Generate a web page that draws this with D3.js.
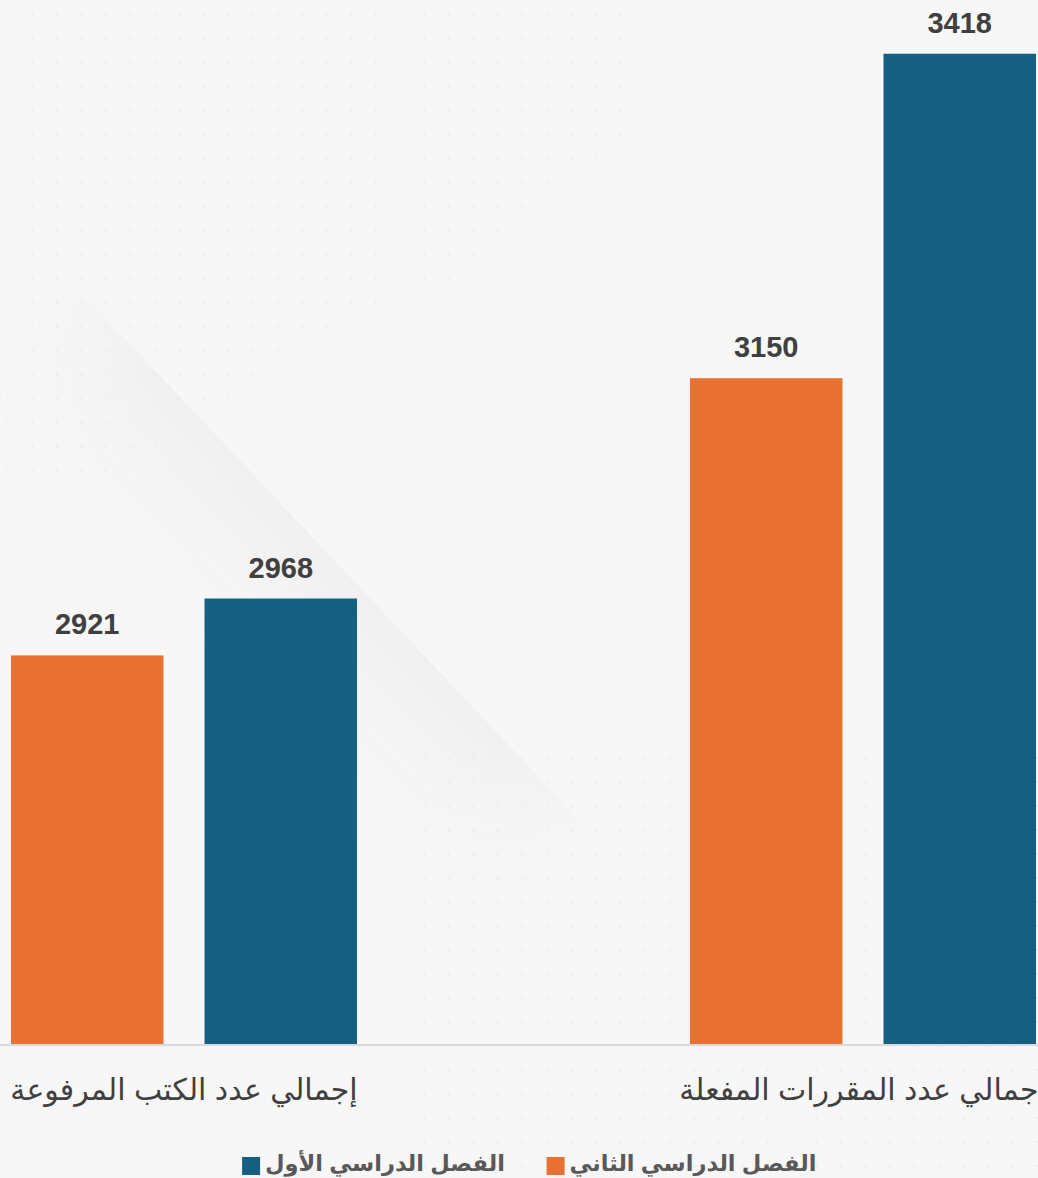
<!DOCTYPE html>
<html>
<head>
<meta charset="utf-8">
<script src="https://cdn.jsdelivr.net/npm/d3@7"></script>
<style>
  html, body { margin: 0; padding: 0; background: #f7f7f7; }
  svg { display: block; }
</style>
</head>
<body>
<div id="chart"></div>
<script>
// categories in reading order (right to left)
var categories = ['إجمالي عدد المقررات المفعلة', 'إجمالي عدد الكتب المرفوعة'];
var seriesNames = ['الفصل الدراسي الأول', 'الفصل الدراسي الثاني'];
var firstSemester  = [3418, 2968];
var secondSemester = [3150, 2921];
var colors = ['#156082', '#E97132'];

var width = 1038,
    height = 1178,
    baseY = 1044;

var rows = categories.map(function(c, i) {
  return { cat: c, values: [firstSemester[i], secondSemester[i]] };
});

var svg = d3.select('#chart')
  .append('svg')
  .attr('width', width)
  .attr('height', height);

var defs = svg.append('defs');

// faint dotted background
var pat = defs.append('pattern')
  .attr('id', 'dots')
  .attr('patternUnits', 'userSpaceOnUse')
  .attr('width', 24.5)
  .attr('height', 24);
pat.append('circle')
  .attr('cx', 8).attr('cy', 14).attr('r', 1.3)
  .attr('fill', '#e6e6e6');

// soft diagonal shadow
var grad = defs.append('linearGradient')
  .attr('id', 'shade')
  .attr('gradientUnits', 'userSpaceOnUse')
  .attr('x1', 310).attr('y1', 535)
  .attr('x2', 180).attr('y2', 658);
grad.append('stop').attr('offset', '0%').attr('stop-color', '#ececec').attr('stop-opacity', 0.7);
grad.append('stop').attr('offset', '100%').attr('stop-color', '#f7f7f7').attr('stop-opacity', 0);

var fade = defs.append('linearGradient')
  .attr('id', 'fade')
  .attr('gradientUnits', 'userSpaceOnUse')
  .attr('x1', 60).attr('y1', 270)
  .attr('x2', 600).attr('y2', 842);
fade.append('stop').attr('offset', '0%').attr('stop-color', '#000');
fade.append('stop').attr('offset', '20%').attr('stop-color', '#fff');
fade.append('stop').attr('offset', '80%').attr('stop-color', '#fff');
fade.append('stop').attr('offset', '100%').attr('stop-color', '#000');

defs.append('mask')
  .attr('id', 'fadeMask')
  .attr('maskUnits', 'userSpaceOnUse')
  .attr('x', 0).attr('y', 0).attr('width', width).attr('height', height)
  .append('rect')
  .attr('width', width).attr('height', height)
  .attr('fill', 'url(#fade)');

svg.append('rect')
  .attr('width', width)
  .attr('height', height)
  .attr('fill', '#f7f7f7');

svg.append('polygon')
  .attr('points', '60,270 600,842 0,1178 0,270')
  .attr('fill', 'url(#shade)')
  .attr('mask', 'url(#fadeMask)');

svg.append('polygon')
  .attr('points', '0,0 640,0 640,120 470,270 300,340 140,470 0,480')
  .attr('fill', 'url(#dots)')
  .attr('opacity', 0.7);

svg.append('polygon')
  .attr('points', '420,740 1038,740 1038,1178 380,1178')
  .attr('fill', 'url(#dots)')
  .attr('opacity', 0.7);

// scales
var x0 = d3.scaleBand()
  .domain(categories)
  .range([1036, 11])
  .paddingInner(0.4904);

var x1 = d3.scaleBand()
  .domain(seriesNames)
  .range([x0.bandwidth(), 0])
  .paddingInner(0.212);

var y = d3.scaleLinear()
  .domain([2600, 3450])
  .range([baseY, 15]);

// bars
var groups = svg.selectAll('g.group')
  .data(rows)
  .enter()
  .append('g')
  .attr('class', 'group')
  .attr('transform', function(d) { return 'translate(' + x0(d.cat) + ',0)'; });

var bars = groups.selectAll('g.bar')
  .data(function(d) {
    return d.values.map(function(v, i) { return { name: seriesNames[i], value: v, i: i }; });
  })
  .enter()
  .append('g')
  .attr('class', 'bar');

bars.append('rect')
  .attr('x', function(d) { return x1(d.name); })
  .attr('y', function(d) { return y(d.value); })
  .attr('width', x1.bandwidth())
  .attr('height', function(d) { return baseY - y(d.value); })
  .attr('fill', function(d) { return colors[d.i]; });

bars.append('text')
  .attr('x', function(d) { return x1(d.name) + x1.bandwidth() / 2; })
  .attr('y', function(d) { return y(d.value) - 21; })
  .attr('text-anchor', 'middle')
  .attr('font-family', '"Liberation Sans", Arial, sans-serif')
  .attr('font-weight', 'bold')
  .attr('font-size', 29)
  .attr('fill', '#404040')
  .text(function(d) { return d.value; });

// x axis
var xAxis = svg.append('g')
  .attr('transform', 'translate(0,' + baseY + ')')
  .call(d3.axisBottom(x0).tickSize(0).tickPadding(0));

xAxis.select('.domain').remove();

xAxis.append('line')
  .attr('x1', 0).attr('x2', width)
  .attr('y1', 1).attr('y2', 1)
  .attr('stroke', '#d9d9d9')
  .attr('stroke-width', 2);

// right label runs past the edge, as in the source
xAxis.selectAll('.tick text')
  .attr('y', 56)
  .attr('dy', 0)
  .attr('font-family', '"Liberation Sans", Arial, "DejaVu Sans", sans-serif')
  .attr('font-size', 30)
  .attr('fill', '#404040');

// legend
var legendCenters = [385, 693];
var legend = svg.selectAll('g.legend')
  .data(seriesNames)
  .enter()
  .append('g')
  .attr('class', 'legend');

legend.append('text')
  .attr('x', function(d, i) { return legendCenters[i]; })
  .attr('y', 1171)
  .attr('text-anchor', 'middle')
  .attr('font-family', '"Liberation Sans", Arial, "DejaVu Sans", sans-serif')
  .attr('font-weight', 'bold')
  .attr('font-size', 22.5)
  .attr('fill', '#595959')
  .text(function(d) { return d; });

legend.append('rect')
  .attr('x', function(d, i) {
    var t = d3.select(this.parentNode).select('text').node();
    return legendCenters[i] - t.getComputedTextLength() / 2 - 23;
  })
  .attr('y', 1157)
  .attr('width', 18)
  .attr('height', 18)
  .attr('fill', function(d, i) { return colors[i]; });
</script>
</body>
</html>
